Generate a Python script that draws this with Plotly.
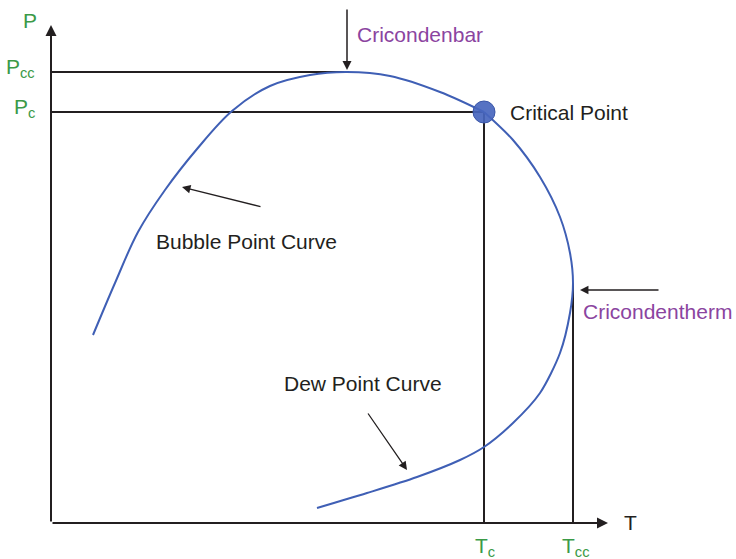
import plotly.graph_objects as go

# Phase envelope (arbitrary units: T horizontal, P vertical)
bubble_T = [8.4, 12.8, 17.4, 22.8, 29.2, 36.2, 43.8, 51.8, 59.2, 67.8, 77.8, 86.6]
bubble_P = [37.6, 48.0, 58.2, 66.6, 74.8, 82.4, 87.4, 89.6, 90.2, 89.4, 86.2, 82.2]

dew_T = [86.6, 92.4, 97.8, 101.8, 103.8, 104.4, 103.8, 101.8, 97.8, 92.4, 86.6, 81.8, 73.2, 63.2, 53.2]
dew_P = [82.2, 76.6, 69.2, 61.2, 54.0, 48.0, 42.0, 34.0, 26.0, 20.0, 15.2, 12.6, 9.2, 6.0, 3.0]

Tc, Pc = 86.6, 82.2          # critical point
Pcc_T, Pcc = 59.2, 90.2      # cricondenbar
Tcc, Tcc_P = 104.4, 48.0     # cricondentherm

axis_T_max = 111.4
axis_P_max = 99.6

GREEN = "#3b9a47"
PURPLE = "#8b44a0"
BLUE = "#3f5fb5"
INK = "#231f20"
FONT = "Liberation Sans, Arial, sans-serif"

fig = go.Figure()

# reference lines
line_style = dict(color=INK, width=2)
fig.add_trace(go.Scatter(x=[0, Pcc_T], y=[Pcc, Pcc], mode="lines", line=line_style, hoverinfo="skip"))
fig.add_trace(go.Scatter(x=[0, Tc], y=[Pc, Pc], mode="lines", line=line_style, hoverinfo="skip"))
fig.add_trace(go.Scatter(x=[Tc, Tc], y=[0, Pc], mode="lines", line=line_style, hoverinfo="skip"))
fig.add_trace(go.Scatter(x=[Tcc, Tcc], y=[0, Tcc_P], mode="lines", line=line_style, hoverinfo="skip"))

# envelope
fig.add_trace(go.Scatter(x=bubble_T, y=bubble_P, mode="lines",
                         line=dict(color=BLUE, width=2, shape="spline", smoothing=1.0), hoverinfo="skip"))
fig.add_trace(go.Scatter(x=dew_T, y=dew_P, mode="lines",
                         line=dict(color=BLUE, width=2, shape="spline", smoothing=0.8), hoverinfo="skip"))

# critical point
fig.add_trace(go.Scatter(x=[Tc], y=[Pc], mode="markers",
                         marker=dict(size=22, color="rgba(72,102,190,0.92)",
                                     line=dict(color="#3a56a8", width=1)), hoverinfo="skip"))

ann = []

def arrow(x, y, ax, ay, width=2, head=2, size=1.0):
    ann.append(dict(x=x, y=y, ax=ax, ay=ay, xref="x", yref="y", axref="x", ayref="y",
                    showarrow=True, arrowhead=head, arrowsize=size, arrowwidth=width,
                    arrowcolor=INK, standoff=0, startstandoff=0, text=""))

# axes
arrow(0, axis_P_max, 0, 0, width=2, head=2, size=1.1)
arrow(axis_T_max, 0, 0, 0, width=2, head=2, size=1.1)

# pointer arrows
arrow(Pcc_T, Pcc + 0.4, Pcc_T, 103.0, width=1.5, head=2, size=1.2)
arrow(105.8, 46.6, 121.8, 46.6, width=1.3, head=2, size=1.3)
arrow(26.2, 67.2, 42.2, 63.2, width=1.3, head=2, size=1.3)
arrow(71.2, 10.6, 63.2, 22.2, width=1.3, head=2, size=1.3)

def label(x, y, text, color, xanchor="left", yanchor="middle", size=21):
    ann.append(dict(x=x, y=y, xref="x", yref="y", text=text, showarrow=False,
                    xanchor=xanchor, yanchor=yanchor,
                    font=dict(family=FONT, size=size, color=color)))

label(91.4, 82.2, "Critical Point", INK)
label(60.8, 97.8, "Cricondenbar", PURPLE)
label(106.0, 42.4, "Cricondentherm", PURPLE)
label(20.6, 56.4, "Bubble Point Curve", INK)
label(46.2, 28.0, "Dew Point Curve", INK)
label(115.8, 0.2, "T", INK, xanchor="center")

label(-4.2, 100.6, "P", GREEN, xanchor="center")
label(-2.8, 91.0, "P<sub>cc</sub>", GREEN, xanchor="right")
label(-2.8, 83.0, "P<sub>c</sub>", GREEN, xanchor="right")
label(Tc + 0.2, -4.8, "T<sub>c</sub>", GREEN, xanchor="center")
label(Tcc + 0.6, -4.8, "T<sub>cc</sub>", GREEN, xanchor="center")

fig.update_layout(
    width=736, height=559,
    margin=dict(l=0, r=0, t=0, b=0),
    paper_bgcolor="white", plot_bgcolor="white",
    showlegend=False,
    xaxis=dict(range=[-10.2, 137.0], visible=False, fixedrange=True),
    yaxis=dict(range=[-7.2, 104.6], visible=False, fixedrange=True),
    annotations=ann,
)

fig.write_html("out.html", config={"displayModeBar": False},
               post_script="document.body.style.margin='0';document.body.style.overflow='hidden';")
